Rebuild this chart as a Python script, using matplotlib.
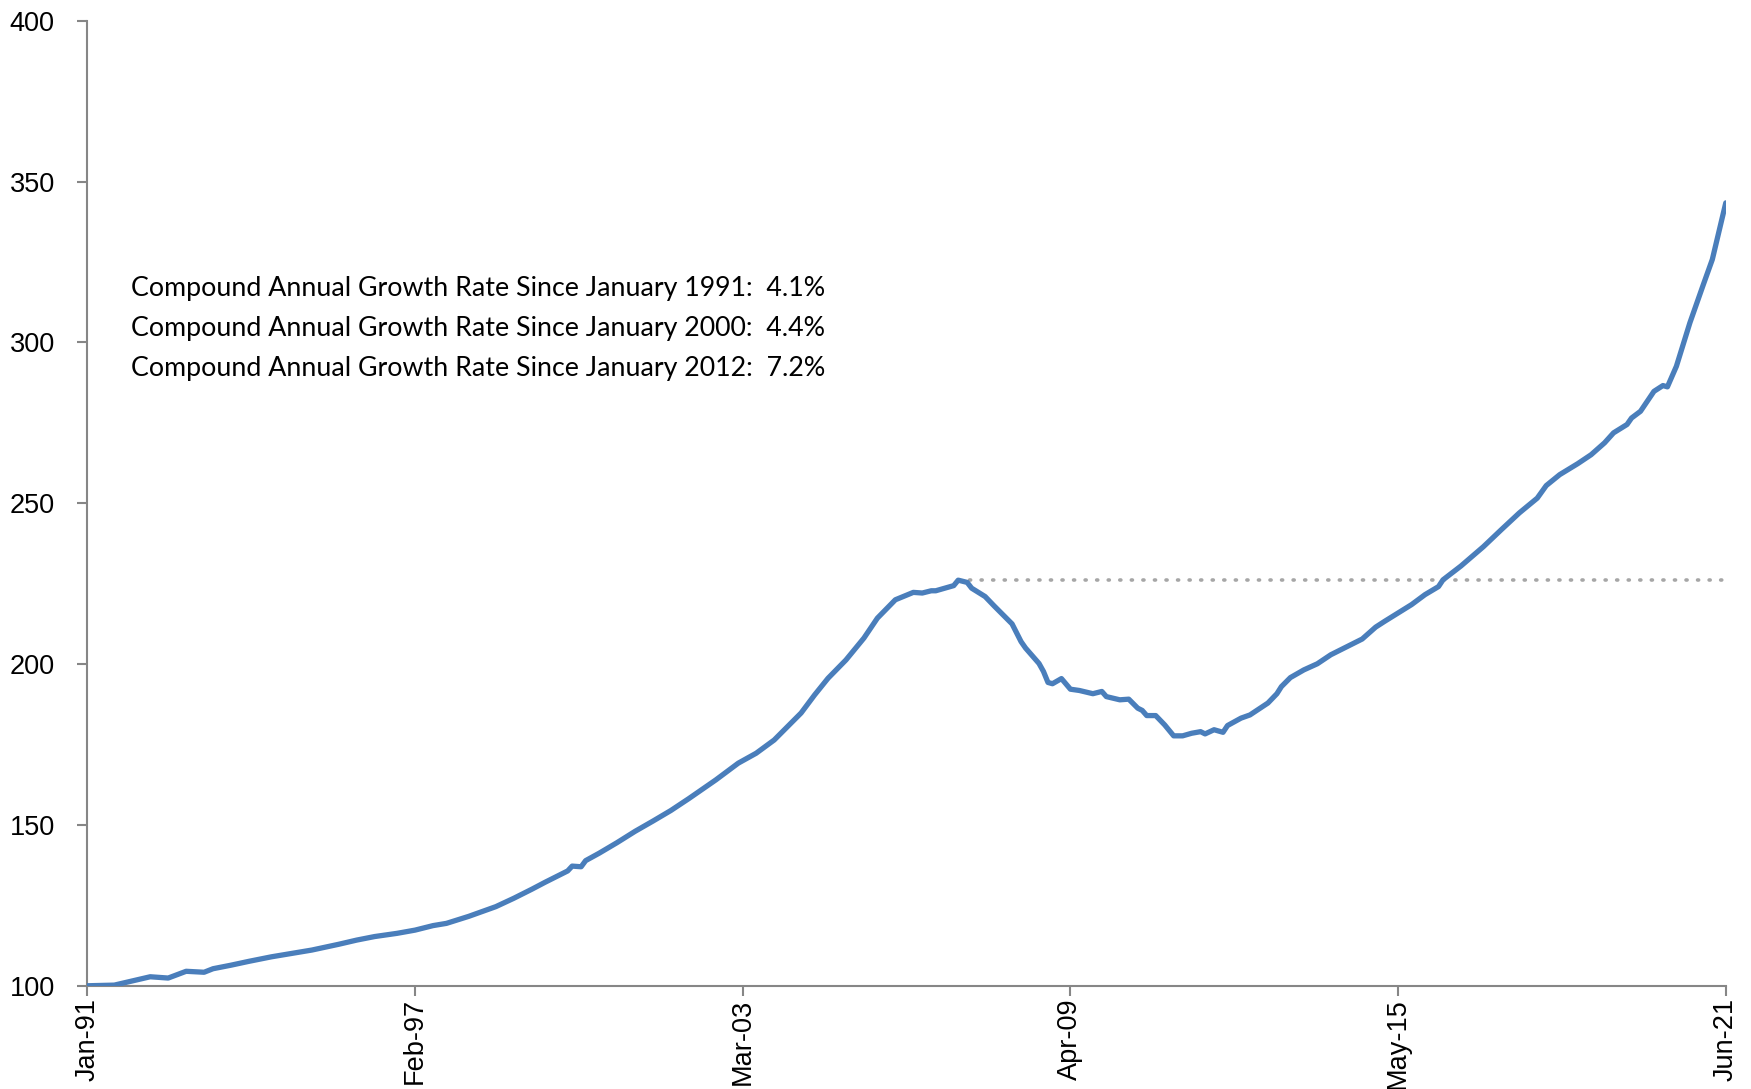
import matplotlib
matplotlib.use("Agg")
import matplotlib.pyplot as plt
import numpy as np

# months since Jan-91 and index level (Jan-91 = 100)
month_idx = [0, 6, 14, 18, 22, 26, 28, 32, 36, 41, 47, 50, 56, 60, 64, 69, 73, 77, 80,
             85, 91, 95, 99, 102, 107, 108, 110, 111, 114, 118, 122, 126, 130, 134, 140,
             145, 149, 153, 159, 162, 165, 169, 173, 176, 180, 184, 186, 188, 189, 191,
             193, 194, 196, 197, 200, 202, 204, 206, 208, 209, 212, 213, 214, 215, 217,
             219, 221, 224, 226, 227, 230, 232, 234, 235, 236, 238, 240, 242, 244, 246,
             248, 249, 251, 253, 254, 257, 259, 263, 265, 266, 268, 271, 274, 277, 280,
             284, 287, 289, 292, 295, 298, 301, 302, 306, 311, 315, 319, 323, 325, 328,
             332, 335, 338, 340, 343, 344, 346, 349, 351, 352, 354, 357, 360, 362, 365]
hpi = [100.0, 100.2, 102.8, 102.4, 104.5, 104.2, 105.3, 106.4, 107.6, 109.0, 110.4,
       111.1, 112.9, 114.2, 115.3, 116.3, 117.3, 118.7, 119.4, 121.6, 124.6, 127.2,
       130.0, 132.2, 135.7, 137.2, 137.0, 138.9, 141.2, 144.5, 148.0, 151.2, 154.5,
       158.2, 164.0, 169.2, 172.3, 176.4, 184.8, 190.4, 195.6, 201.3, 208.1, 214.3,
       220.0, 222.3, 222.1, 222.8, 222.8, 223.6, 224.4, 226.1, 225.4, 223.6, 221.0,
       218.1, 215.3, 212.5, 207.0, 205.0, 200.2, 197.7, 194.3, 193.9, 195.5, 192.2,
       191.8, 190.8, 191.5, 189.9, 188.9, 189.1, 186.3, 185.6, 184.0, 184.0, 181.1,
       177.7, 177.7, 178.5, 179.0, 178.3, 179.6, 178.8, 180.9, 183.2, 184.2, 187.9,
       190.8, 193.0, 195.8, 198.2, 200.1, 202.9, 205.0, 207.8, 211.5, 213.3, 215.9,
       218.5, 221.6, 224.1, 226.2, 230.5, 236.5, 241.8, 247.0, 251.6, 255.5, 258.9,
       262.3, 265.1, 268.8, 271.9, 274.5, 276.5, 278.6, 284.8, 286.6, 286.2, 292.6,
       306.1, 318.0, 325.8, 343.4]

tick_months = [0, 73, 146, 219, 292, 365]
tick_labels = ["Jan-91", "Feb-97", "Mar-03", "Apr-09", "May-15", "Jun-21"]

cagr_lines = [
    "Compound Annual Growth Rate Since January 1991:  4.1%",
    "Compound Annual Growth Rate Since January 2000:  4.4%",
    "Compound Annual Growth Rate Since January 2012:  7.2%",
]

fig = plt.figure(figsize=(17.51, 10.89), dpi=100)
ax = fig.add_axes([0.0499, 0.0948, 0.9357, 0.8861])

ax.plot(month_idx, hpi, color="#4A7EBB", lw=3.8, solid_joinstyle="round",
        solid_capstyle="round", zorder=3)

# dotted line at the pre-crisis peak
pre = [v for m, v in zip(month_idx, hpi) if m < 240]
peak_i = int(np.argmax(pre))
ax.plot([month_idx[peak_i], 365], [hpi[peak_i], hpi[peak_i]], color="#A6A6A6", lw=2.6,
        ls=(0, (0.3, 2.9)), dash_capstyle="round", zorder=2)

ax.set_xlim(0, 365)
ax.set_ylim(100, 400)
ax.set_yticks(range(100, 401, 50))
ax.set_xticks(tick_months)
ax.set_xticklabels(tick_labels, rotation=90)

for s in ["top", "right"]:
    ax.spines[s].set_visible(False)
for s in ["left", "bottom"]:
    ax.spines[s].set_color("#868686")
    ax.spines[s].set_linewidth(1.5)

ax.tick_params(axis="both", colors="#868686", length=7, width=1.5, direction="out",
               labelcolor="black", labelsize=19.5)
for lab in ax.get_xticklabels() + ax.get_yticklabels():
    lab.set_family("Liberation Sans")
ax.tick_params(axis="y", pad=16.5)
ax.tick_params(axis="x", pad=2)

for i, line in enumerate(cagr_lines):
    ax.text(0.0268, 0.7227 - i * 0.0415, line, transform=ax.transAxes,
            fontsize=19.3, family="Lato", va="center", ha="left")

fig.savefig("out.png", dpi=100)
